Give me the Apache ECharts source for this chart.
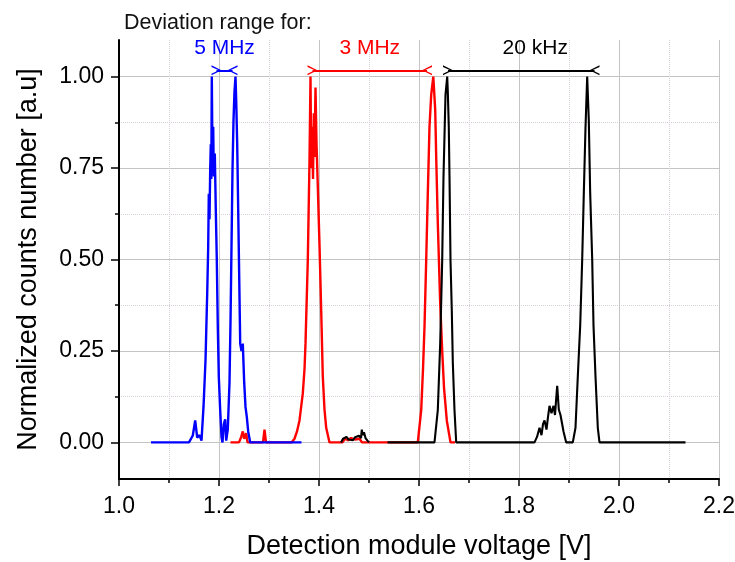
<!DOCTYPE html>
<html>
<head>
<meta charset="utf-8">
<script src="https://cdn.jsdelivr.net/npm/echarts@6.0.0/dist/echarts.min.js"></script>
<style>
  html, body { margin: 0; padding: 0; background: #fff; }
  #chart { width: 735px; height: 562px; }
</style>
</head>
<body>
<div id="chart"></div>
<script>
// Normalized count histograms versus detection-module voltage: [voltage (V), counts (a.u.)]
const counts5MHz = [
  [1.064, 0], [1.140, 0], [1.1476, 0.019], [1.1524, 0.06], [1.1564, 0.013], [1.161, 0.02],
  [1.165, 0.005], [1.169, 0.097], [1.173, 0.224], [1.1764, 0.407], [1.1784, 0.535],
  [1.1796, 0.68], [1.181, 0.61], [1.1824, 0.745], [1.1836, 0.815], [1.1846, 0.72],
  [1.1856, 1.0], [1.187, 0.77], [1.1884, 0.863], [1.1896, 0.727], [1.1916, 0.79],
  [1.1936, 0.635], [1.1956, 0.498], [1.1976, 0.316], [1.1996, 0.18], [1.2024, 0.088],
  [1.205, 0.015], [1.207, 0], [1.2096, 0.05], [1.2124, 0.063], [1.2144, 0.005],
  [1.2176, 0.036], [1.221, 0.164], [1.223, 0.33], [1.225, 0.535], [1.227, 0.745],
  [1.229, 0.88], [1.231, 0.96], [1.233, 1.0], [1.2344, 0.935], [1.2364, 0.815],
  [1.2384, 0.635], [1.2404, 0.453], [1.2424, 0.27], [1.245, 0.25], [1.2476, 0.27],
  [1.2504, 0.164], [1.253, 0.097], [1.2556, 0.07], [1.2584, 0.03], [1.2624, 0], [1.365, 0]
];
const counts3MHz = [
  [1.223, 0], [1.240, 0], [1.2444, 0.015], [1.2476, 0.03], [1.2504, 0.01], [1.2544, 0.025],
  [1.257, 0], [1.288, 0], [1.291, 0.035], [1.294, 0], [1.345, 0], [1.351, 0.01],
  [1.356, 0.03], [1.361, 0.06], [1.3676, 0.134], [1.371, 0.2], [1.373, 0.27],
  [1.3776, 0.498], [1.381, 0.77], [1.383, 1.0], [1.3844, 0.75], [1.3864, 0.863],
  [1.388, 0.72], [1.3896, 0.9], [1.391, 0.78], [1.393, 0.97], [1.395, 0.82],
  [1.3976, 0.7], [1.401, 0.54], [1.4044, 0.36], [1.4076, 0.18], [1.411, 0.09],
  [1.4144, 0.04], [1.421, 0], [1.447, 0], [1.452, 0.01], [1.458, 0.006], [1.464, 0.012],
  [1.472, 0.008], [1.481, 0.01], [1.486, 0], [1.5976, 0], [1.6044, 0.088], [1.608, 0.2],
  [1.611, 0.316], [1.6144, 0.498], [1.6176, 0.68], [1.621, 0.863], [1.6244, 0.95],
  [1.6286, 1.0], [1.6324, 0.91], [1.6344, 0.78], [1.6376, 0.6], [1.6424, 0.38],
  [1.6464, 0.25], [1.65, 0.15], [1.6556, 0.06], [1.663, 0], [1.672, 0]
];
const counts20kHz = [
  [1.444, 0], [1.448, 0.01], [1.451, 0.005], [1.455, 0.015], [1.459, 0.008], [1.463, 0.012],
  [1.468, 0.006], [1.472, 0.014], [1.476, 0.01], [1.48, 0.018], [1.484, 0.012],
  [1.4856, 0.035], [1.4876, 0.02], [1.49, 0.028], [1.493, 0.012], [1.497, 0.005], [1.5, 0],
  [1.52, null],
  [1.537, 0], [1.631, 0], [1.6376, 0.088], [1.6424, 0.27], [1.6464, 0.498], [1.649, 0.727],
  [1.653, 0.95], [1.6564, 1.0], [1.6576, 0.96], [1.6596, 0.86], [1.661, 0.727],
  [1.663, 0.498], [1.6656, 0.36], [1.6676, 0.22], [1.671, 0.088], [1.6744, 0],
  [1.831, 0], [1.836, 0.015], [1.841, 0.04], [1.845, 0.02], [1.848, 0.05], [1.851, 0.06],
  [1.855, 0.035], [1.858, 0.07], [1.861, 0.1], [1.865, 0.08], [1.869, 0.1], [1.872, 0.075],
  [1.8744, 0.12], [1.8764, 0.155], [1.8796, 0.09], [1.883, 0.075], [1.8864, 0.07],
  [1.889, 0.03], [1.8944, 0], [1.9076, 0], [1.913, 0.04], [1.9176, 0.18], [1.9224, 0.32],
  [1.9264, 0.5], [1.9296, 0.68], [1.933, 0.86], [1.9364, 1.0], [1.9396, 0.88],
  [1.9424, 0.68], [1.9464, 0.5], [1.949, 0.32], [1.953, 0.18], [1.9576, 0.04],
  [1.961, 0], [2.133, 0]
];

// Deviation range of each setting, drawn as a double arrow above the peaks
const range5MHz = [1.195, 1.227];
const range3MHz = [1.387, 1.616];
const range20kHz = [1.658, 1.951];
const rangeLevel = 1.017;
const rangeNames = ['5 MHz', '3 MHz', '20 kHz'];

// Axis ticks
const xTickLabels = ['1.0', '1.2', '1.4', '1.6', '1.8', '2.0', '2.2'];
const yMajorTicks = [0, 0.25, 0.5, 0.75, 1.0];
const yMinorTicks = [0.125, 0.375, 0.625, 0.875];

const FONT = '"Liberation Sans", Arial, sans-serif';
// inward-pointing chevron used at both ends of a range arrow
const CHEVRON = 'path://M0,0 L5,10 L10,0 L8.4,0 L5,7.2 L1.6,0 Z';

function rangeMark(range, name, color, padLeft) {
  return {
    silent: true,
    animation: false,
    symbol: [CHEVRON, CHEVRON],
    symbolSize: 10,
    lineStyle: { color: color, width: 2, type: 'solid' },
    label: {
      show: true,
      position: 'middle',
      formatter: name,
      color: color,
      fontSize: 21,
      fontFamily: FONT,
      distance: 12,
      padding: [0, 0, 0, padLeft]
    },
    emphasis: { disabled: true },
    data: [[{ coord: [range[0], rangeLevel] }, { coord: [range[1], rangeLevel] }]]
  };
}

function histSeries(name, data, color, width, mark) {
  return {
    name: name,
    type: 'line',
    data: data,
    showSymbol: false,
    symbol: 'none',
    connectNulls: false,
    animation: false,
    lineStyle: { color: color, width: width },
    itemStyle: { color: color },
    emphasis: { disabled: true },
    markLine: mark
  };
}

const chart = echarts.init(document.getElementById('chart'), null, { renderer: 'canvas' });

chart.setOption({
  backgroundColor: '#ffffff',
  textStyle: { fontFamily: FONT },
  title: {
    text: 'Deviation range for:',
    left: 119,
    top: 7,
    textStyle: { fontSize: 21.5, fontWeight: 'normal', color: '#111', fontFamily: FONT }
  },
  grid: { left: 119, right: 16, top: 40, bottom: 83, containLabel: false, outerBoundsMode: 'none' },
  xAxis: {
    type: 'value',
    min: 1.0,
    max: 2.2,
    interval: 0.2,
    name: 'Detection module voltage [V]',
    nameLocation: 'middle',
    nameGap: 54,
    nameTextStyle: { fontSize: 27, color: '#000', fontFamily: FONT },
    axisLine: { show: true, onZero: false, lineStyle: { color: '#000', width: 2 } },
    axisTick: { show: true, inside: false, length: 7, lineStyle: { color: '#000', width: 1.5 } },
    minorTick: { show: true, splitNumber: 2, length: 4, lineStyle: { color: '#000', width: 1.5 } },
    axisLabel: {
      fontSize: 23, color: '#000', margin: 16, fontFamily: FONT,
      showMinLabel: true, showMaxLabel: true,
      formatter: function (v) {
        const i = Math.round((v - 1.0) / 0.2);
        return xTickLabels[i] !== undefined ? xTickLabels[i] : '';
      }
    },
    splitLine: { show: true, lineStyle: { color: '#c4c4c4', width: 1 } },
    minorSplitLine: { show: true, lineStyle: { color: '#d8d0d8', width: 1, type: 'dotted' } }
  },
  yAxis: [
    {
      type: 'value',
      min: -0.1,
      max: 1.1,
      name: 'Normalized counts number [a.u]',
      nameLocation: 'middle',
      nameGap: 77,
      nameTextStyle: { fontSize: 27, color: '#000', fontFamily: FONT },
      axisLine: { show: true, onZero: false, lineStyle: { color: '#000', width: 2 } },
      axisTick: { show: true, inside: false, length: 8, customValues: yMajorTicks, lineStyle: { color: '#000', width: 1.5 } },
      minorTick: { show: false },
      axisLabel: {
        fontSize: 23, color: '#000', margin: 15, fontFamily: FONT,
        customValues: yMajorTicks,
        formatter: function (v) { return v.toFixed(2); }
      },
      splitLine: { show: true, lineStyle: { color: '#c4c4c4', width: 1 } }
    },
    {
      type: 'value',
      min: -0.1,
      max: 1.1,
      position: 'left',
      axisLine: { show: false, onZero: false },
      axisTick: { show: true, inside: false, length: 4, customValues: yMinorTicks, lineStyle: { color: '#000', width: 1.5 } },
      minorTick: { show: false },
      axisLabel: { show: false, customValues: yMinorTicks },
      splitLine: { show: true, lineStyle: { color: '#d8d0d8', width: 1, type: 'dotted' } }
    }
  ],
  series: [
    histSeries('3 MHz', counts3MHz, '#ff0000', 2.4, rangeMark(range3MHz, rangeNames[1], '#ff0000', 0)),
    histSeries('20 kHz', counts20kHz, '#000000', 2.1, rangeMark(range20kHz, rangeNames[2], '#000000', 28)),
    histSeries('5 MHz', counts5MHz, '#0000ff', 2.4, rangeMark(range5MHz, rangeNames[0], '#0000ff', 0))
  ]
});
</script>
</body>
</html>
